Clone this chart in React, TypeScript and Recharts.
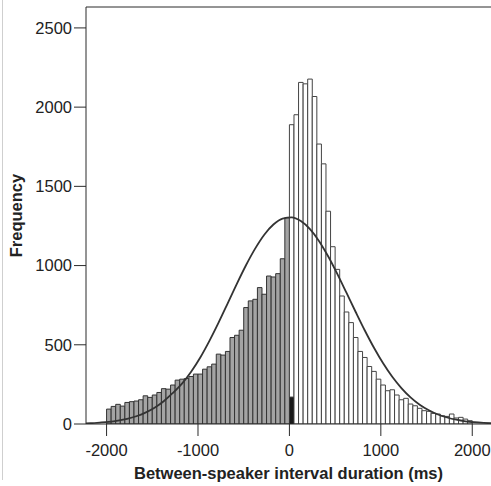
import { Bar, ComposedChart, Label, Line, ReferenceLine, XAxis, YAxis } from 'recharts';

const BIN = 50;

// between-speaker intervals below zero (overlaps), 50 ms bins
const negBinStarts = [
  -2000, -1950, -1900, -1850, -1800, -1750, -1700, -1650, -1600, -1550,
  -1500, -1450, -1400, -1350, -1300, -1250, -1200, -1150, -1100, -1050,
  -1000, -950, -900, -850, -800, -750, -700, -650, -600, -550,
  -500, -450, -400, -350, -300, -250, -200, -150, -100, -50,
];
const negCounts = [
  94, 111, 124, 113, 136, 141, 145, 153, 178, 168,
  183, 199, 223, 220, 246, 277, 283, 287, 300, 315,
  315, 346, 361, 378, 441, 435, 458, 546, 560, 592,
  735, 777, 787, 861, 819, 934, 928, 949, 1043, 1302,
];

// gaps (zero and above)
const posBinStarts = [
  0, 50, 100, 150, 200, 250, 300, 350, 400, 450,
  500, 550, 600, 650, 700, 750, 800, 850, 900, 950,
  1000, 1050, 1100, 1150, 1200, 1250, 1300, 1350, 1400, 1450,
  1500, 1550, 1600, 1650, 1700, 1750, 1800, 1850, 1900, 1950,
];
const posCounts = [
  1889, 1952, 2156, 2147, 2177, 2067, 1767, 1642, 1343, 1119,
  976, 808, 707, 640, 546, 458, 420, 363, 332, 283,
  246, 210, 216, 183, 153, 162, 126, 115, 99, 84,
  80, 67, 63, 52, 48, 63, 38, 42, 31, 21,
];
// exactly-zero intervals, drawn black at the foot of the first gap bin
const zeroCount = 170;

// fitted normal curve
const fitX = [
  -2275, -2175, -2075, -1975, -1875, -1775, -1675, -1575, -1475, -1375,
  -1275, -1175, -1075, -975, -875, -775, -675, -575, -475, -375,
  -275, -175, -75, 25, 125, 225, 325, 425, 525, 625,
  725, 825, 925, 1025, 1125, 1225, 1325, 1425, 1525, 1625,
  1725, 1825, 1925, 2025, 2125, 2225,
];
const fitY = [
  3, 5, 9, 14, 22, 33, 49, 72, 103, 144,
  196, 255, 330, 420, 525, 640, 762, 885, 1002, 1107,
  1195, 1259, 1297, 1304, 1281, 1230, 1154, 1057, 946, 827,
  707, 590, 481, 383, 298, 227, 168, 122, 87, 60,
  41, 27, 17, 11, 7, 4,
];

const xTicks = [-2000, -1000, 0, 1000, 2000];
const yTicks = [0, 500, 1000, 1500, 2000, 2500];
const Y_MAX = 2632;

type Row = { x: number; neg?: number; pos?: number; zero?: number; fit?: number };

function buildRows(): Row[] {
  const rows = new Map<number, Row>();
  const get = (x: number) => {
    if (!rows.has(x)) rows.set(x, { x });
    return rows.get(x)!;
  };
  negBinStarts.forEach((s, i) => {
    get(s + BIN / 2).neg = negCounts[i];
  });
  posBinStarts.forEach((s, i) => {
    const r = get(s + BIN / 2);
    if (s === 0) {
      r.zero = zeroCount;
      r.pos = posCounts[i] - zeroCount;
    } else {
      r.pos = posCounts[i];
    }
  });
  fitX.forEach((x, i) => {
    get(x).fit = fitY[i];
  });
  return [...rows.values()].sort((a, b) => a.x - b.x);
}

const data = buildRows();
const font = '"Liberation Sans", Arial, sans-serif';
const ink = '#2b2b2b';

export default function App() {
  return (
    <div style={{ position: 'absolute', left: 0, top: 0, width: 491, height: 486, background: '#fff' }}>
      <div style={{ position: 'absolute', left: 2, top: 0, width: 1, height: 480, background: '#cfcfcf' }} />
      <ComposedChart
        width={491}
        height={486}
        data={data}
        margin={{ top: 7, right: 0, bottom: 0, left: 0 }}
        style={{ fontFamily: font }}
      >
        <XAxis
          dataKey="x"
          type="number"
          domain={[-2225, 2205]}
          allowDataOverflow
          ticks={xTicks}
          interval={0}
          height={62}
          tickSize={12}
          tickMargin={8}
          stroke={ink}
          tick={{ fill: '#222', fontSize: 16.5 }}
        >
          <Label
            content={({ viewBox }: any) => (
              <text
                x={viewBox.x + viewBox.width / 2}
                y={479}
                textAnchor="middle"
                fontSize={16.5}
                fontWeight="bold"
                fill="#222"
              >
                Between-speaker interval duration (ms)
              </text>
            )}
          />
        </XAxis>
        <YAxis
          type="number"
          domain={[0, Y_MAX]}
          allowDataOverflow
          ticks={yTicks}
          interval={0}
          width={86}
          tickSize={12}
          tickMargin={2}
          stroke={ink}
          tick={{ fill: '#222', fontSize: 16.5 }}
        >
          <Label
            content={({ viewBox }: any) => {
              const cx = 16;
              const cy = viewBox.y + viewBox.height / 2;
              return (
                <text
                  x={cx}
                  y={cy}
                  transform={`rotate(-90 ${cx} ${cy})`}
                  textAnchor="middle"
                  dominantBaseline="central"
                  fontSize={16.5}
                  fontWeight="bold"
                  fill="#222"
                >
                  Frequency
                </text>
              );
            }}
          />
        </YAxis>
        <ReferenceLine y={Y_MAX} stroke={ink} />
        <Bar dataKey="zero" stackId="h" barSize={4.57} fill="#1a1a1a" stroke="#111" strokeWidth={1} isAnimationActive={false} />
        <Bar dataKey="neg" stackId="h" barSize={4.57} fill="#a4a4a4" stroke="#333" strokeWidth={1} isAnimationActive={false} />
        <Bar dataKey="pos" stackId="h" barSize={4.57} fill="#ffffff" stroke="#444" strokeWidth={1} isAnimationActive={false} />
        <Line
          dataKey="fit"
          type="monotone"
          stroke="#333"
          strokeWidth={1.8}
          dot={false}
          activeDot={false}
          connectNulls
          isAnimationActive={false}
        />
      </ComposedChart>
    </div>
  );
}
